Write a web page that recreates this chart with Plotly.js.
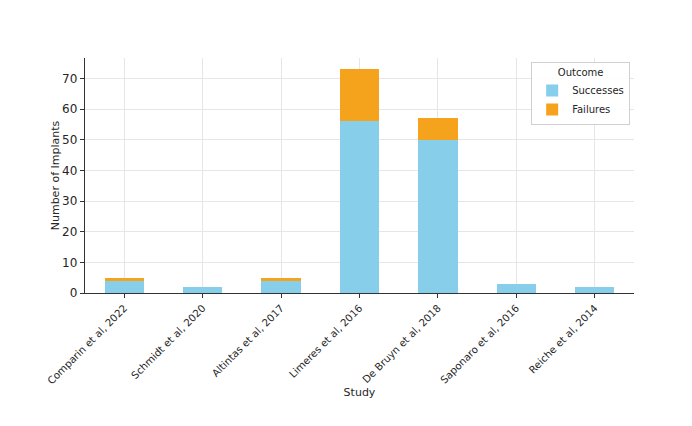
<!DOCTYPE html>
<html>
<head>
<meta charset="utf-8">
<script src="https://cdn.plot.ly/plotly-3.0.1.min.js"></script>
<style>
  html, body { margin: 0; padding: 0; background: #fff; }
  #chart { width: 692px; height: 426px; }
</style>
</head>
<body>
<div id="chart"></div>
<script>
// Implant outcomes per study
const studies = [
  "Comparin et al, 2022",
  "Schmidt et al, 2020",
  "Altintas et al, 2017",
  "Limeres et al, 2016",
  "De Bruyn et al, 2018",
  "Saponaro et al, 2016",
  "Reiche et al, 2014"
];
const successes = [4, 2, 4, 56, 50, 3, 2];
const failures = [1, 0, 1, 17, 7, 0, 0];
const yTicks = [0, 10, 20, 30, 40, 50, 60, 70];

const family = "DejaVu Sans, sans-serif";
const ink = "#262626";

const traces = [
  {
    type: "bar", name: "Successes", x: studies, y: successes,
    marker: { color: "#87CEEB" }, width: 0.5
  },
  {
    type: "bar", name: "Failures", x: studies, y: failures,
    marker: { color: "#F5A31C" }, width: 0.5
  }
];

const layout = {
  width: 692, height: 426,
  margin: { l: 85, r: 58, t: 58, b: 133 },
  paper_bgcolor: "#fff", plot_bgcolor: "#fff",
  barmode: "stack",
  font: { family: family, size: 11, color: ink },
  showlegend: true,
  xaxis: {
    range: [-0.5, 6.5],
    tickangle: -45,
    showgrid: true, gridcolor: "#e6e6e6", gridwidth: 1,
    showline: true, linecolor: "#333", linewidth: 1.2,
    ticks: "outside", ticklen: 4, tickcolor: "#333",
    tickfont: { family: family, size: 10.2, color: ink },
    title: { text: "Study", font: { family: family, size: 11, color: ink }, standoff: 2 }
  },
  yaxis: {
    range: [0, 76.65],
    tickvals: yTicks,
    showgrid: true, gridcolor: "#e6e6e6", gridwidth: 1,
    zeroline: false,
    showline: true, linecolor: "#333", linewidth: 1.2,
    ticks: "outside", ticklen: 4, tickcolor: "#333",
    tickfont: { family: family, size: 12, color: ink },
    title: { text: "Number of Implants", font: { family: family, size: 11, color: ink }, standoff: 0 }
  },
  legend: {
    x: 0.993, y: 0.983, xanchor: "right", yanchor: "top",
    bgcolor: "rgba(255,255,255,0.9)", bordercolor: "#d0d0d0", borderwidth: 1,
    font: { family: family, size: 10, color: ink },
    title: { text: "Outcome", side: "top center", font: { family: family, size: 10, color: ink } },
    traceorder: "normal",
    itemwidth: 30,
    tracegroupgap: 0
  }
};

Plotly.newPlot("chart", traces, layout, { displayModeBar: false, staticPlot: true });
</script>
</body>
</html>
